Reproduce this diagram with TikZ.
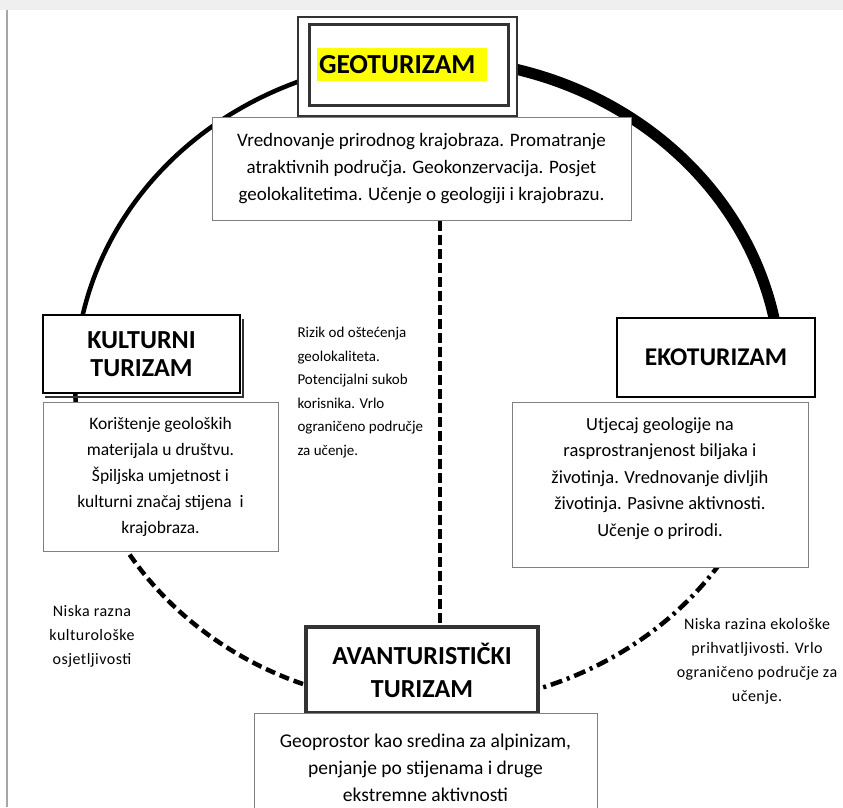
\documentclass[tikz,border=0pt]{standalone}
\usepackage{fontspec}
\setmainfont{Carlito}
\newfontfamily\widefont[LetterSpace=3]{Carlito}
\begin{document}
\begin{tikzpicture}[x=1pt,y=-1pt,font=\fontsize{17}{26.5}\selectfont]
  \definecolor{georim}{HTML}{333333}
  \definecolor{geobox}{HTML}{808080}
  \definecolor{geohl}{HTML}{FFFF00}
  \definecolor{geoband}{HTML}{EFEFEF}
  \definecolor{geoedge}{HTML}{A6A6A6}
  \tikzset{
    titlebox/.style={draw=black,line width=2.5pt,fill=white,align=center,
      font=\bfseries\fontsize{25.5}{28}\selectfont},
    textbox/.style={draw=geobox,line width=1pt,fill=white,align=center},
    notetext/.style={font=\fontsize{15}{23.5}\selectfont},
    ringarc/.style={line width=4.5pt}
  }
  \path[use as bounding box] (0,0) rectangle (843,807);

  % page frame
  \fill[geoband] (0,0) rectangle (843,10);
  \draw[geoedge,line width=1.5pt] (7,10) -- (7,807);

  % the ring, four arcs of one ellipse
  \draw[ringarc] plot[domain=90:186,samples=80] ({428+353*cos(\x)},{382-323*sin(\x)});
  \draw[ringarc,dash pattern=on 10pt off 5pt] plot[domain=186:270,samples=80] ({428+353*cos(\x)},{382-323*sin(\x)});
  \draw[line width=11pt] plot[domain=8:90,samples=80] ({428+353*cos(\x)},{382-323*sin(\x)});
  \draw[ringarc,dash pattern=on 12pt off 5pt on 3pt off 5pt] plot[domain=-90:-5,samples=80] ({428+353*cos(\x)},{382-323*sin(\x)});

  % geoturizam
  \node[draw=georim,line width=2pt,fill=white,minimum width=219pt,minimum height=99pt] (geoouter) at (407.5,66) {};
  \node[draw=georim,line width=3pt,minimum width=199pt,minimum height=81pt] (geoinner) at (408.5,64.5) {};
  \node[fill=geohl,minimum width=170pt,minimum height=33pt,text width=166pt,align=left,inner sep=2pt,
        font=\bfseries\fontsize{27.5}{30}\selectfont] (geotitle) at (402,64.5) {GEOTURIZAM};
  \node[textbox,minimum width=419pt,minimum height=103pt,font=\fontsize{19}{27}\selectfont] (geotext) at (421.5,169)
    {Vrednovanje prirodnog krajobraza. Promatranje\\atraktivnih područja. Geokonzervacija. Posjet\\geolokalitetima. Učenje o geologiji i krajobrazu.};

  % kulturni turizam
  \draw[georim,line width=1.5pt] (243,319) -- (243,397) -- (45,397);
  \node[titlebox,minimum width=197pt,minimum height=78pt,font=\bfseries\fontsize{26}{28}\selectfont] (kultura) at (141.5,354) {KULTURNI\\TURIZAM};
  \node[textbox,minimum width=235pt,minimum height=149pt,font=\fontsize{17.5}{26}\selectfont] (kulturatext) at (160.5,477)
    {Korištenje geoloških\\materijala u društvu.\\Špiljska umjetnost i\\kulturni značaj stijena\ \ i\\krajobraza.};

  % ekoturizam
  \node[titlebox,minimum width=198pt,minimum height=79pt] (eko) at (716,357.5) {EKOTURIZAM};
  \node[textbox,minimum width=296pt,minimum height=165pt,font=\fontsize{18.5}{26.5}\selectfont] (ekotext) at (660,485)
    {Utjecaj geologije na\\rasprostranjenost biljaka i\\životinja. Vrednovanje divljih\\životinja. Pasivne aktivnosti.\\Učenje o prirodi.\\[-10pt]};

  % avanturisticki turizam
  \node[titlebox,draw=georim,line width=3.5pt,minimum width=232pt,minimum height=86pt,
        font=\bfseries\fontsize{26}{33}\selectfont] (avantura) at (422,670) {AVANTURISTIČKI\\TURIZAM};
  \node[textbox,minimum width=343pt,minimum height=110pt,font=\fontsize{19.5}{27}\selectfont] (avanturatext) at (425.5,768)
    {Geoprostor kao sredina za alpinizam,\\penjanje po stijenama i druge\\ekstremne aktivnosti};

  % link geo -- avantura
  \draw[line width=4pt,dash pattern=on 10pt off 4pt] ([xshift=18.5pt]geotext.south) -- ([xshift=18pt]avantura.north);

  % notes on the links
  \node[notetext,align=left,anchor=north west] (noterizik) at (294,324)
    {Rizik od oštećenja\\geolokaliteta.\\Potencijalni sukob\\korisnika. Vrlo\\ograničeno područje\\za učenje.};
  \node[notetext,align=center,font=\widefont\fontsize{16}{24}\selectfont] (notekultura) at (92,636)
    {Niska razna\\kulturološke\\osjetljivosti};
  \node[notetext,align=center,font=\widefont\fontsize{16}{24}\selectfont] (noteeko) at (757,661)
    {Niska razina ekološke\\prihvatljivosti. Vrlo\\ograničeno područje za\\učenje.};
\end{tikzpicture}
\end{document}
